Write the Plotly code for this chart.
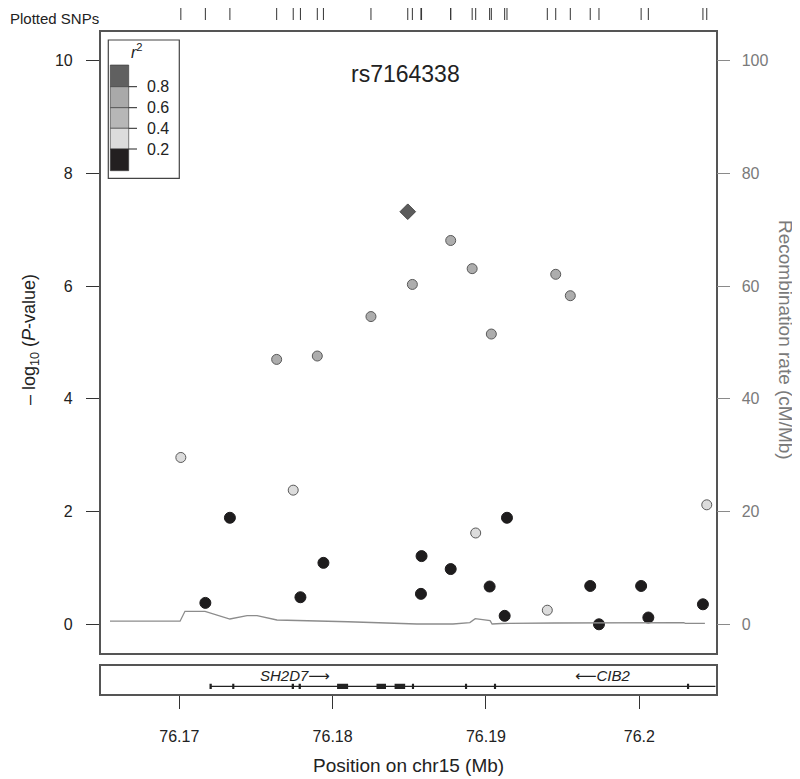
import plotly.graph_objects as go

# ---- data ----
lead_pos = [76.1849]
lead_logp = [7.32]

mid_pos = [76.17635, 76.1790, 76.1825, 76.1852, 76.1877, 76.1891, 76.19035, 76.19455, 76.1955]
mid_logp = [4.70, 4.76, 5.46, 6.03, 6.81, 6.31, 5.15, 6.21, 5.83]

light_pos = [76.1701, 76.17743, 76.18933, 76.1940, 76.2044]
light_logp = [2.96, 2.38, 1.62, 0.25, 2.12]

low_pos = [76.1717, 76.1733, 76.1779, 76.1794, 76.18576, 76.1858, 76.1877, 76.19024,
           76.19122, 76.19137, 76.1968, 76.19737, 76.20012, 76.20059, 76.20415]
low_logp = [0.38, 1.89, 0.48, 1.09, 0.54, 1.21, 0.98, 0.67, 0.15, 1.89, 0.68, 0.0, 0.68, 0.12, 0.355]

recomb_pos = [76.16548, 76.17005, 76.17037, 76.17168, 76.1733, 76.17442, 76.17507, 76.17637,
              76.1810, 76.1855, 76.18785, 76.18895, 76.1893, 76.19027, 76.1904, 76.1910,
              76.1945, 76.1968, 76.2029, 76.2030, 76.20428]
recomb_rate = [0.55, 0.55, 2.3, 2.3, 0.94, 1.53, 1.53, 0.76, 0.45, 0.05, 0.05, 0.3, 1.0,
               0.64, 0.05, 0.14, 0.23, 0.28, 0.28, 0.18, 0.18]

exon_start = [76.17197, 76.17345, 76.17733, 76.17778, 76.18029, 76.18286, 76.18404,
              76.18517, 76.18863, 76.19052, 76.20311]
exon_end = [76.17212, 76.17359, 76.17748, 76.17793, 76.18101, 76.18348, 76.18473,
            76.18531, 76.18877, 76.19066, 76.20325]
gene_span = [76.17205, 76.20498]
gene_names = ["<i>SH2D7</i>\u27f6", "\u27f5<i>CIB2</i>"]
gene_label_pos = [76.17755, 76.19763]

legend_labels = ["0.8", "0.6", "0.4", "0.2"]
legend_colors = ["#606060", "#a9a9a9", "#b7b7b7", "#dcdcdc", "#231f20"]

x_ticks = [76.17, 76.18, 76.19, 76.2]
x_ticktext = ["76.17", "76.18", "76.19", "76.2"]
y_ticks = [0, 2, 4, 6, 8, 10]
rate_ticks = [0, 20, 40, 60, 80, 100]

# the page body adds an 8px margin, so the figure is drawn 8px smaller and shifted
OFF = 8
W, H = 800 - OFF, 779 - OFF
FONT = "Liberation Sans, DejaVu Sans"
XR = [76.164874, 76.204983]
YR = [-0.5146, 10.509]


def fx(px):
    return max(0.0, (px - OFF) / W)


def fy(py):
    return min(1.0, 1 - (py - OFF) / H)


def label(px, py, text, size, color="#222222", angle=0, xanchor="center", yanchor="middle"):
    fig.add_annotation(x=fx(px), y=fy(py), xref="paper", yref="paper", text=text,
                       textangle=angle, showarrow=False, xanchor=xanchor, yanchor=yanchor,
                       font=dict(family=FONT, size=size, color=color))


fig = go.Figure()

# recombination rate (right axis)
fig.add_trace(go.Scatter(x=recomb_pos, y=recomb_rate, yaxis="y2", mode="lines",
                         line=dict(color="#8c8c8c", width=1.3), showlegend=False))

fig.add_trace(go.Scatter(x=low_pos, y=low_logp, mode="markers",
                         marker=dict(size=11, color="#1e1c1d", line=dict(color="#1e1c1d", width=1)),
                         showlegend=False))
fig.add_trace(go.Scatter(x=light_pos, y=light_logp, mode="markers",
                         marker=dict(size=10, color="#dcdcdc", line=dict(color="#595959", width=1)),
                         showlegend=False))
fig.add_trace(go.Scatter(x=mid_pos, y=mid_logp, mode="markers",
                         marker=dict(size=10, color="#adadad", line=dict(color="#595959", width=1)),
                         showlegend=False))
fig.add_trace(go.Scatter(x=lead_pos, y=lead_logp, mode="markers",
                         marker=dict(size=12, symbol="diamond", color="#5c5c5c",
                                     line=dict(color="#444444", width=1)),
                         showlegend=False))

# rug of plotted SNPs
all_pos = sorted(lead_pos + mid_pos + light_pos + low_pos)
rug_x, rug_y = [], []
for p in all_pos:
    rug_x += [p, p, None]
    rug_y += [0, 1, None]
fig.add_trace(go.Scatter(x=rug_x, y=rug_y, xaxis="x3", yaxis="y4", mode="lines",
                         line=dict(color="#333333", width=1), showlegend=False))

# gene track
fig.add_trace(go.Scatter(x=gene_span, y=[0.275, 0.275], xaxis="x2", yaxis="y3", mode="lines",
                         line=dict(color="#222222", width=1.3), showlegend=False))
for s, e in zip(exon_start, exon_end):
    fig.add_shape(type="rect", xref="x2", yref="y3", x0=s, x1=e, y0=0.18, y1=0.37,
                  fillcolor="#222222", line=dict(width=0))
for name, p in zip(gene_names, gene_label_pos):
    fig.add_annotation(x=p, y=0.66, xref="x2", yref="y3", text=name, showarrow=False,
                       xanchor="center", yanchor="middle",
                       font=dict(family=FONT, size=15, color="#222222"))

# legend box
fig.add_shape(type="rect", xref="paper", yref="paper", x0=fx(108.3), x1=fx(179.3),
              y0=fy(178.3), y1=fy(40), line=dict(color="#444444", width=1.2), fillcolor="white")
bounds = [65, 86.7, 107.7, 128.3, 149, 170.7]
for i, c in enumerate(legend_colors):
    fig.add_shape(type="rect", xref="paper", yref="paper", x0=fx(110.3), x1=fx(128.7),
                  y0=fy(bounds[i + 1]), y1=fy(bounds[i]), fillcolor=c,
                  line=dict(color="#333333", width=0.6))
for i, lab in enumerate(legend_labels):
    yb = bounds[i + 1]
    fig.add_shape(type="line", xref="paper", yref="paper", x0=fx(128.7), x1=fx(137),
                  y0=fy(yb), y1=fy(yb), line=dict(color="#222222", width=1))
    label(145, yb, lab, 16, xanchor="left")
label(137, 51, "<i>r</i><sup>2</sup>", 16)

# titles
label(406, 74, "rs7164338", 23)
label(30, 340, "\u2013 log<sub>10</sub> (<i>P</i>-value)", 18, angle=-90)
label(786, 340, "Recombination rate (cM/Mb)", 19, color="#7a7a7a", angle=90)
label(408, 765, "Position on chr15 (Mb)", 19)
label(0, 8, "Plotted SNPs", 15, xanchor="left", yanchor="top")

dom_x = [fx(100.7), fx(715.7)]
line_style = dict(showline=True, linecolor="#555555", linewidth=1.5, mirror=True,
                  showgrid=False, zeroline=False)

fig.update_layout(
    width=W, height=H,
    margin=dict(l=0, r=0, t=0, b=0, autoexpand=False),
    paper_bgcolor="white", plot_bgcolor="white",
    font=dict(family=FONT, size=15, color="#222222"),
    xaxis=dict(domain=dom_x, range=XR, anchor="y", showticklabels=False, ticks="", **line_style),
    yaxis=dict(domain=[fy(653.3), fy(32)], range=YR, anchor="x", tickvals=y_ticks,
               ticks="outside", ticklen=13, tickcolor="#333333", tickwidth=1.2,
               ticklabelstandoff=10, tickfont=dict(size=16, color="#222222"), **line_style),
    yaxis2=dict(overlaying="y", side="right", anchor="x", range=[YR[0] * 10, YR[1] * 10],
                tickvals=rate_ticks, ticks="outside", ticklen=13, tickcolor="#8a8a8a",
                tickwidth=1.2, ticklabelstandoff=8, tickfont=dict(size=16, color="#7a7a7a"),
                showline=True, linecolor="#555555", linewidth=1.5, showgrid=False, zeroline=False),
    xaxis2=dict(domain=dom_x, range=XR, anchor="y3", tickvals=x_ticks, ticktext=x_ticktext,
                ticks="outside", ticklen=13, tickcolor="#333333", tickwidth=1.2,
                ticklabelstandoff=14, tickfont=dict(size=16, color="#222222"), **line_style),
    yaxis3=dict(domain=[fy(694), fy(666)], range=[0, 1], anchor="x2", showticklabels=False,
                ticks="", **line_style),
    xaxis3=dict(domain=dom_x, range=XR, anchor="y4", visible=False),
    yaxis4=dict(domain=[fy(20), 1.0], range=[0, 1], anchor="x3", visible=False),
)

fig.write_html("out.html")
